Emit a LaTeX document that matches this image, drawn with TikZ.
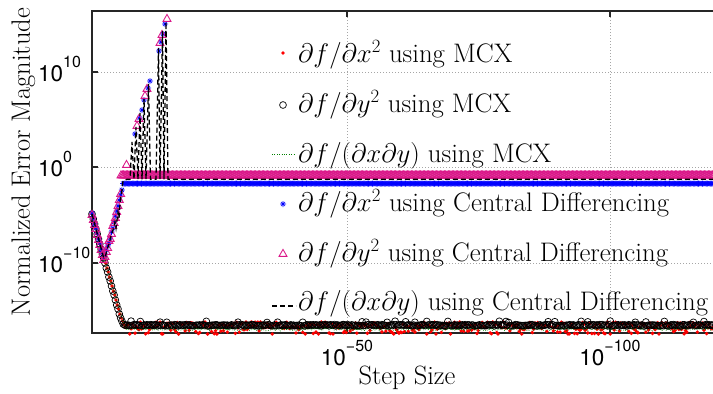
\RequirePackage{fix-cm}
\documentclass[tikz,border=0pt]{standalone}
\usepackage{fontspec}
\newfontfamily\tickfont{TeX Gyre Heros}

% plot markers
\newcommand\pltDot[2]{\fill[reddot] (#1,#2) circle (1.9);}
\newcommand\pltCirc[2]{\draw[circmark] (#1,#2) circle (3.4);}
\newcommand\pltAst[2]{\draw[astmark] (#1,#2) +(-3,0) -- +(3,0) +(0,-3) -- +(0,3)
  +(-2.1,-2.1) -- +(2.1,2.1) +(-2.1,2.1) -- +(2.1,-2.1);}
\newcommand\pltTri[2]{\draw[trimark] (#1,#2) +(-4,2.4) -- +(4,2.4) -- +(0,-4.6) -- cycle;}
% tick labels of the form 10^k
\newcommand\tenpow[1]{{\tickfont\fontsize{22.5}{27}\selectfont 10\raisebox{14pt}{\fontsize{16}{19}\selectfont #1}}}

\begin{document}
\begin{tikzpicture}[x=1pt,y=-1pt,
  axisline/.style={line width=1.2pt, black!85},
  gridline/.style={gray!70, line width=0.6pt, dash pattern=on 0.8pt off 2.2pt},
  reddot/.style={fill=red},
  circmark/.style={draw=black, line width=0.7pt},
  astmark/.style={draw=blue, line width=0.6pt},
  trimark/.style={draw=magenta!90!black, line width=0.85pt},
  cddash/.style={black, line width=1.3pt, dash pattern=on 5pt off 3pt},
  mcxdot/.style={green!50!black, line width=0.6pt, dash pattern=on 0.8pt off 1.6pt},
  legtext/.style={anchor=base west, inner sep=0pt, font=\fontsize{26.8}{32}\selectfont},
  ticklab/.style={inner sep=0pt},
  axlabel/.style={inner sep=0pt, font=\fontsize{26.5}{32}\selectfont}]
\useasboundingbox (0,0) rectangle (713,394);

% grid
\foreach \gy in {72,167,263} {\draw[gridline] (92,\gy) -- (713,\gy);}
\foreach \gx in {347,610} {\draw[gridline] (\gx,11) -- (\gx,333);}

% axes box and ticks
\draw[axisline] (713,11) -- (92,11) -- (92,333) -- (713,333);
\foreach \gy in {72,167,263} {\draw[axisline] (92,\gy) -- (98,\gy);}
\foreach \gx in {347,610} {
  \draw[axisline] (\gx,11) -- (\gx,17);
  \draw[axisline] (\gx,333) -- (\gx,327);
}

% tick labels
\node[ticklab, anchor=base west] (y10) at (38,81.5) {\tenpow{10}};
\node[ticklab, anchor=base west] (y0) at (38,176.5) {\tenpow{0}};
\node[ticklab, anchor=base west] (ym10) at (38,272.5) {\tenpow{−10}};
\node[ticklab, anchor=base] (xm50) at (347,365) {\tenpow{−50}};
\node[ticklab, anchor=base] (xm100) at (610,365) {\tenpow{−100}};

% axis labels
\node[axlabel, anchor=base, rotate=90] (ylab) at (30,162) {Normalized Error Magnitude};
\node[axlabel, anchor=base] (xlab) at (407,384) {Step Size};

% ---- MCX, d2f/dx2 (red dots)
\foreach \x/\y in {92/212,93.3/218,94.6/223,95.9/228,97.2/234,98.5/238,99.8/244,101.1/249,102.4/253,103.7/258,
  105.6/263,106.9/268,108.2/272,109.5/277,110.8/281,112.1/286,113.4/291,114.7/295,116/300,117.3/305,
  118.6/309,119.9/314,121.2/318,122.5/321,123.8/324,125.1/326}
  {\pltDot{\x}{\y}}
\pgfmathsetseed{4711}
\foreach \i in {0,...,445} {
  \pgfmathsetmacro\xx{125.8+1.32*\i}
  \pgfmathsetmacro\yr{min(334,325+3*rand+6.5*(rnd>0.68))}
  \pltDot{\xx}{\yr}
}

% ---- MCX, d2f/dy2 (circles)
\foreach \x/\y in {92/214,93.3/219,94.6/224,95.9/229,97.2/234,98.5/239,99.8/244,101.1/249,102.4/254,103.7/258,
  105/263,106.3/268,107.6/272,108.9/277,110.2/281,111.5/286,112.8/291,114.1/295,115.4/300,116.7/305,
  118/309,119.3/314,120.6/318,121.9/321,123.2/324,124.5/325}
  {\pltCirc{\x}{\y}}
\foreach \i in {0,...,445} {
  \pgfmathsetmacro\xx{125.8+1.32*\i}
  \pgfmathsetmacro\yc{325.3+0.7*rand-3.5*(rnd>0.93)}
  \pltCirc{\xx}{\yc}
}

% ---- MCX, d2f/dxdy (green dotted)
\draw[mcxdot] (92,214) -- (103.7,258) -- (124.5,326)
  \foreach \i in {1,...,445} { -- ({125.8+1.32*\i},{328+3*rnd}) };

% ---- central differencing, d2f/dx2 (blue asterisks)
\foreach \x/\y in {92/213,93.3/218,94.6/224,95.9/228,97.2/233,98.5/239,99.8/243,101.1/249,102.4/253,103.7/257,
  105/254,106.3/250,107.6/246,108.9/243,110.2/238,111.5/232,112.8/228,114.1/222,115.4/216,116.7/211,
  118/206,119.3/200,120.6/195,121.9/190,
  135/134,139.5/118,142/110,144/100,148/88,150/81,159/51,161/42,163/34,165/24}
  {\pltAst{\x}{\y}}
\foreach \i in {0,...,447} {
  \pgfmathsetmacro\xx{123+1.32*\i}
  \pltAst{\xx}{183.5}
}

% ---- central differencing, d2f/dy2 (triangles)
\foreach \x/\y in {92/215,93.3/220,94.6/225,95.9/229,97.2/235,98.5/240,99.8/245,101.1/250,102.4/255,103.7/260,
  105/257,106.3/252,107.6/248,108.9/241,110.2/239,111.5/234,112.8/226,114.1/223,115.4/218,116.7/212,
  118/206,119.3/200,120.6/194,
  126.5/165,137/126,139/119,145/96,147/89,160/43,162/35,167/19}
  {\pltTri{\x}{\y}}
\foreach \i in {0,...,449} {
  \pgfmathsetmacro\xx{121+1.32*\i}
  \pltTri{\xx}{175.5}
}

% ---- central differencing, d2f/dxdy (black dashed)
\draw[cddash] (92,214) -- (103.7,258) -- (105.5,256) -- (107,250) -- (109,244) -- (111,236) -- (113,230)
  -- (115,222) -- (116,228) -- (118,212) -- (119,218) -- (120,204) -- (121,196) -- (122,190) -- (123,181)
  -- (127,179.3) -- (130,179.3) -- (132,142) -- (134,179.3) -- (136,127) -- (138,179.3) -- (140,113)
  -- (142,179.3) -- (144,99) -- (146,179.3) -- (148.5,84) -- (150.5,179.3) -- (156,179.3) -- (158.5,48)
  -- (160,179.3) -- (162.5,31) -- (164,179.3) -- (166,22) -- (168,179.3) -- (713,179.3);

% ---- legend
\node[legtext] (leg1) at (298,62) {$\partial f/\partial x^2$ using MCX};
\node[legtext] (leg2) at (298,112) {$\partial f/\partial y^2$ using MCX};
\node[legtext] (leg3) at (298,162) {$\partial f/(\partial x\partial y)$ using MCX};
\node[legtext] (leg4) at (298,211) {$\partial f/\partial x^2$ using Central Differencing};
\node[legtext] (leg5) at (298,261) {$\partial f/\partial y^2$ using Central Differencing};
\node[legtext] (leg6) at (298,310) {$\partial f/(\partial x\partial y)$ using Central Differencing};
\pltDot{283}{53}
\pltCirc{283}{105}
\draw[mcxdot] (272,154) -- (295,154);
\pltAst{283}{204}
\pltTri{283}{254}
\draw[cddash] (272,306) -- (296,306);
\end{tikzpicture}
\end{document}
